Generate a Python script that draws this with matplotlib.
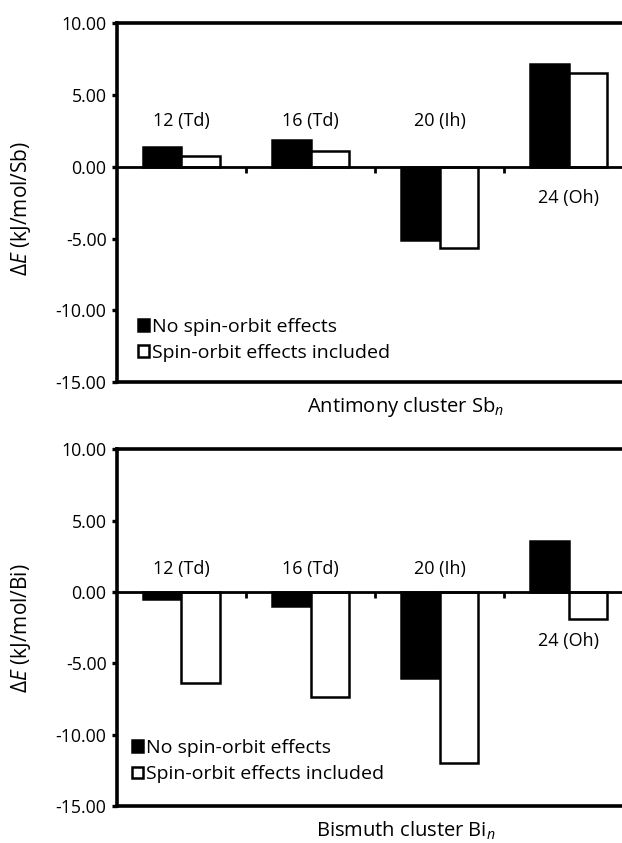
import numpy as np
import matplotlib
matplotlib.use('Agg')
import matplotlib.pyplot as plt
from matplotlib.patches import Patch

plt.rcParams['font.family'] = ['Open Sans', 'DejaVu Sans']
plt.rcParams['mathtext.fontset'] = 'custom'
plt.rcParams['mathtext.rm'] = 'Open Sans'
plt.rcParams['mathtext.it'] = 'Open Sans:italic'

# data
categories = ['12 (Td)', '16 (Td)', '20 (Ih)', '24 (Oh)']
sb_no_so = [1.4, 1.85, -5.06, 7.16]
sb_so = [0.75, 1.08, -5.68, 6.53]
bi_no_so = [-0.52, -0.98, -6.04, 3.55]
bi_so = [-6.39, -7.32, -11.99, -1.91]
yticks = [10, 5, 0, -5, -10, -15]
legend_labels = ['No spin-orbit effects', 'Spin-orbit effects included']

panels = [
    (sb_no_so, sb_so, r'$\mathit{\Delta E}$ (kJ/mol/Sb)', r'Antimony cluster Sb$_{\mathit{n}}$',
     [3.2, 3.2, 3.2, -2.17], 0.118, 0.041, 0.485),
    (bi_no_so, bi_so, r'$\mathit{\Delta E}$ (kJ/mol/Bi)', r'Bismuth cluster Bi$_{\mathit{n}}$',
     [1.64, 1.64, 1.64, -3.4], 0.126, 0.030, 0.5),
]

fig = plt.figure(figsize=(6.22, 8.43), dpi=100)
# plot area runs past the right edge of the picture (cropped like the original)
rects = [[0.1881, 0.5465, 0.8296, 0.4259], [0.1881, 0.0435, 0.8296, 0.4238]]

x = np.arange(len(categories))
w = 0.30
for rect, (a, b, ylab, xlab, lab_y, leg_y, leg_x, ylab_y) in zip(rects, panels):
    ax = fig.add_axes(rect)
    ax.bar(x - w / 2, a, w, color='black', edgecolor='black', linewidth=1.8)
    ax.bar(x + w / 2, b, w, color='white', edgecolor='black', linewidth=1.8)
    ax.set_xlim(-0.5, 3.5)
    ax.set_ylim(-15, 10)
    ax.set_yticks(yticks)
    ax.set_yticklabels(['%.2f' % v for v in yticks], fontsize=12.8)
    ax.tick_params(axis='y', direction='out', length=3.5, width=2.4, pad=4)
    ax.set_xticks([])
    for s in ['left', 'top', 'bottom']:
        ax.spines[s].set_linewidth(2.6)
    ax.spines['right'].set_visible(False)
    ax.axhline(0, color='black', linewidth=2.0, zorder=3)
    # category separator ticks on the zero line
    for sep in x[:-1] + 0.5:
        ax.plot([sep, sep], [0, -0.4], color='black', linewidth=2.0, zorder=3,
                solid_capstyle='butt')
    for i, c in enumerate(categories):
        ax.text(x[i], lab_y[i], c, ha='center', va='center', fontsize=13)
    ax.set_ylabel(ylab, fontsize=15)
    ax.yaxis.set_label_coords(-0.163, ylab_y)
    ax.text(1.74, -16.7, xlab, ha='center', va='center', fontsize=14.5, clip_on=False)
    handles = [Patch(facecolor='black', edgecolor='black', linewidth=1.8),
               Patch(facecolor='white', edgecolor='black', linewidth=1.8)]
    ax.legend(handles, legend_labels, loc='center left', bbox_to_anchor=(leg_x, leg_y),
              frameon=False, fontsize=14, handlelength=0.55, handleheight=0.55,
              handletextpad=0.15, labelspacing=0.42, borderaxespad=0, borderpad=0)

fig.savefig('out.png', dpi=100)
